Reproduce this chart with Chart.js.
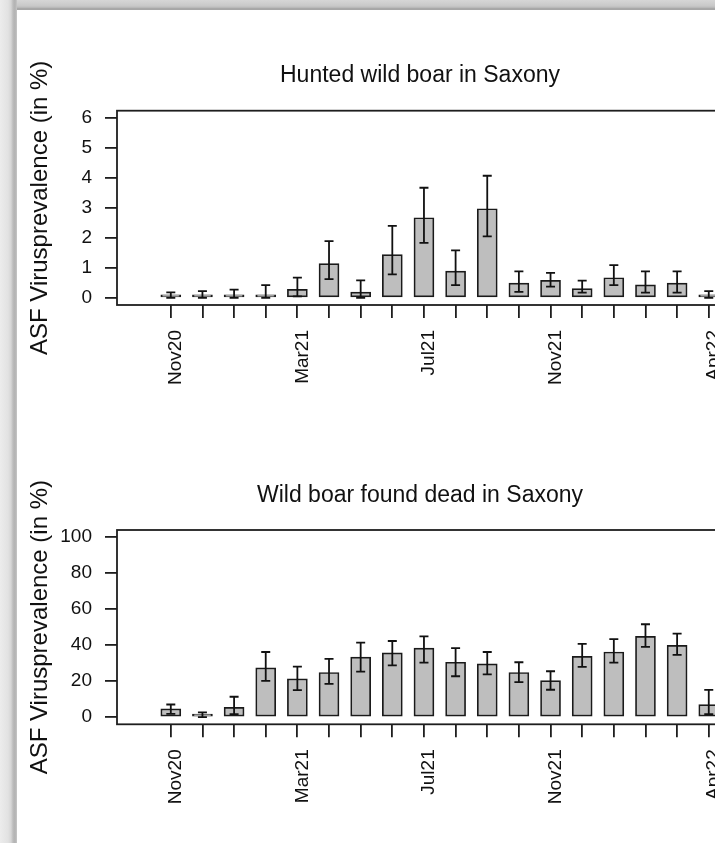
<!DOCTYPE html>
<html><head><meta charset="utf-8">
<script src="https://cdn.jsdelivr.net/npm/chart.js@4.4.1/dist/chart.umd.min.js"></script>
<style>
html,body{margin:0;padding:0;background:#fff;overflow:hidden;width:715px;height:843px;}
#c1{position:absolute;left:0;top:0;}
#c2{position:absolute;left:0;top:420px;}
#frameTop{position:absolute;left:0;top:0;width:715px;height:10px;z-index:2;
 background:linear-gradient(to bottom,#d6d6d6 0px,#c8c8c8 6px,#b4b4b4 8px,#9c9c9c 9px,#b0b0b0 10px);}
#frameLeft{position:absolute;left:0;top:0;width:17px;height:843px;z-index:3;
 background:linear-gradient(to right,#ececec 0px,#e2e2e2 8px,#d6d6d6 11px,#bcbcbc 13px,#b2b2b2 15px,#c6c6c6 17px);}
</style></head><body>
<canvas id="c1" width="760" height="420"></canvas>
<canvas id="c2" width="760" height="423"></canvas>
<div id="frameTop"></div><div id="frameLeft"></div>
<script>
const months = ['Nov20','Dec20','Jan21','Feb21','Mar21','Apr21','May21','Jun21','Jul21','Aug21','Sep21','Oct21','Nov21','Dec21','Jan22','Feb22','Mar22','Apr22'];
const shownLabels = ['Nov20','Mar21','Jul21','Nov21','Apr22'];

const huntedPrev  = [0.02,0.03,0.09,0.09,0.28,1.14,0.19,1.44,2.67,0.89,2.97,0.49,0.58,0.31,0.67,0.43,0.49,0.02];
const huntedLower = [0.00,0.00,0.00,0.00,0.05,0.62,0.00,0.78,1.83,0.42,2.05,0.20,0.37,0.17,0.42,0.17,0.17,0.00];
const huntedUpper = [0.18,0.22,0.27,0.42,0.67,1.89,0.58,2.40,3.67,1.58,4.07,0.88,0.83,0.57,1.09,0.88,0.88,0.22];
const huntedTicks = [0,1,2,3,4,5,6];

const deadPrev  = [4.6,1.1,5.4,27.4,21.3,24.8,33.3,35.7,38.4,30.5,29.6,24.8,20.3,33.8,36.2,44.9,39.9,7.0];
const deadLower = [1.8,0.0,1.7,20.1,15.0,18.5,25.3,28.7,30.3,22.7,23.7,19.4,15.2,27.9,30.3,39.0,34.6,1.7];
const deadUpper = [7.0,2.6,11.3,36.2,28.1,32.4,41.4,42.3,44.9,38.3,36.2,30.5,25.5,40.7,43.3,51.6,46.4,15.1];
const deadTicks = [0,20,40,60,80,100];

const FONT = "'Liberation Sans', Arial, sans-serif";
const INK = '#111111';

const boxPlugin = {
  id: 'rbox',
  afterDatasetsDraw(chart, args, opts) {
    const ctx = chart.ctx, a = chart.chartArea;
    const xs = chart.scales.x, ys = chart.scales.y;
    ctx.save();
    ctx.strokeStyle = INK; ctx.lineWidth = 1.8;
    for (let i = 0; i < opts.lower.length; i++) {
      const x = xs.getPixelForValue(i);
      const yl = ys.getPixelForValue(opts.lower[i]);
      const yu = ys.getPixelForValue(opts.upper[i]);
      ctx.beginPath();
      ctx.moveTo(x, yl); ctx.lineTo(x, yu);
      ctx.moveTo(x - 4.5, yu); ctx.lineTo(x + 4.5, yu);
      ctx.moveTo(x - 4.5, yl); ctx.lineTo(x + 4.5, yl);
      ctx.stroke();
    }
    ctx.lineWidth = 1.8; ctx.strokeStyle = '#1e1e1e';
    ctx.strokeRect(a.left, a.top, a.right - a.left, a.bottom - a.top);
    ctx.fillStyle = INK;
    ctx.font = '23px ' + FONT;
    ctx.textAlign = 'center'; ctx.textBaseline = 'alphabetic';
    ctx.fillText(opts.title, (a.left + a.right) / 2, a.top - 28.5);
    ctx.restore();
  }
};

function makeChart(id, prev, lower, upper, yTicks, yMin, yMax, title, padTop, xHeight) {
  return new Chart(document.getElementById(id), {
    type: 'bar',
    data: {
      datasets: [{
        data: prev.map((v, i) => ({x: i, y: v})),
        backgroundColor: '#bebebe',
        borderColor: '#1a1a1a',
        borderWidth: 1.7,
        borderSkipped: false,
        barThickness: 20,
        minBarLength: 3
      }]
    },
    options: {
      responsive: false,
      animation: false,
      devicePixelRatio: 1,
      layout: {padding: {top: padTop, right: 37, left: 0, bottom: 0}},
      plugins: {
        legend: {display: false},
        tooltip: {enabled: false},
        rbox: {lower: lower, upper: upper, title: title}
      },
      scales: {
        x: {
          type: 'linear',
          offset: false,
          min: -1.7, max: 17.45,
          afterFit(s) { s.height = xHeight; },
          afterBuildTicks(s) { s.ticks = months.map((m, i) => ({value: i})); },
          grid: {display: true, offset: false, drawOnChartArea: false, drawTicks: true, tickLength: 13, color: '#1e1e1e', lineWidth: 1.8},
          border: {display: false},
          ticks: {
            autoSkip: false, minRotation: 90, maxRotation: 90, padding: 12, labelOffset: 5,
            color: INK, font: {family: FONT, size: 19},
            callback(v) { const m = months[v]; return shownLabels.includes(m) ? m : ''; }
          }
        },
        y: {
          type: 'linear',
          min: yMin, max: yMax,
          afterFit(s) { s.width = 117; },
          afterBuildTicks(s) { s.ticks = yTicks.map(v => ({value: v})); },
          grid: {display: true, drawOnChartArea: false, drawTicks: true, tickLength: 12, color: '#1e1e1e', lineWidth: 1.8},
          border: {display: false},
          ticks: {padding: 13, color: INK, font: {family: FONT, size: 19}},
          title: {display: true, text: 'ASF Virusprevalence (in %)', color: INK,
                  font: {family: FONT, size: 24}, padding: {top: 26, bottom: 0}}
        }
      }
    },
    plugins: [boxPlugin]
  });
}

makeChart('c1', huntedPrev, huntedLower, huntedUpper, huntedTicks, -0.24, 6.24, 'Hunted wild boar in Saxony', 110.7, 115);
makeChart('c2', deadPrev, deadLower, deadUpper, deadTicks, -4, 104, 'Wild boar found dead in Saxony', 110, 118.7);
</script>
</body></html>
